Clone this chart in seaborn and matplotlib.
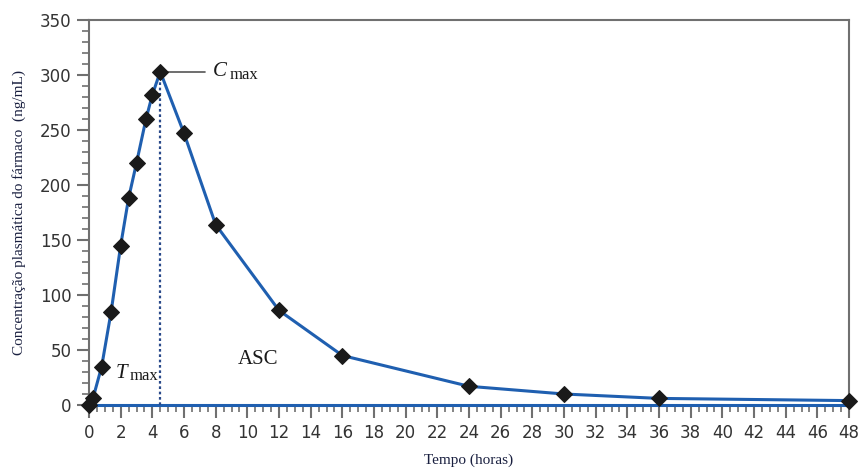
import matplotlib
matplotlib.use("Agg")
import matplotlib.pyplot as plt
from matplotlib.ticker import MultipleLocator
import seaborn as sns
import pandas as pd

# Data
tempo = [0, 0.25, 0.8, 1.4, 2, 2.5, 3, 3.6, 4, 4.5, 6, 8, 12, 16, 24, 30, 36, 48]
conc = [0, 6, 35, 85, 145, 188, 220, 260, 282, 303, 247, 164, 86, 45, 17, 10, 6, 4]
tmax = 4.5
cmax = 303

df = pd.DataFrame({"Tempo": tempo, "Conc": conc})

sns.set_theme(style="white")
plt.rcParams['font.family'] = ['DejaVu Sans']

fig = plt.figure(figsize=(8.6, 4.73), dpi=100)
ax = fig.add_axes([89/860, 1-405/473, (849-89)/860, (405-20)/473])

line_col = "#1f5fb0"
ax.axhline(0, color=line_col, lw=2.2, zorder=2, clip_on=False)
ax.plot([tmax, tmax], [0, cmax], color="#2a4a8a", lw=1.6, ls=(0, (1.2, 1.2)), zorder=2)
sns.lineplot(data=df, x="Tempo", y="Conc", ax=ax, color=line_col, lw=2.2,
             marker="D", markersize=8, markerfacecolor="#1a1a1a",
             markeredgecolor="#1a1a1a", zorder=3, clip_on=False)

ax.set_xlim(0, 48)
ax.set_ylim(0, 350)
ax.xaxis.set_major_locator(MultipleLocator(2))
ax.xaxis.set_minor_locator(MultipleLocator(0.5))
ax.yaxis.set_major_locator(MultipleLocator(50))
ax.yaxis.set_minor_locator(MultipleLocator(10))

gray = "#707070"
for s in ax.spines.values():
    s.set_color(gray)
    s.set_linewidth(1.5)
ax.spines['bottom'].set_visible(False)

ax.tick_params(axis='both', which='major', direction='out', length=9, width=1.5,
               color=gray, labelsize=12, labelcolor="#333333")
ax.tick_params(axis='both', which='minor', direction='out', length=5, width=1.2, color=gray)
ax.tick_params(axis='x', which='both', bottom=True, top=False, pad=5)
ax.tick_params(axis='y', which='both', left=True, right=False)

serif = ['Liberation Serif']
ax.set_xlabel("Tempo (horas)", family=serif, fontsize=11, color="#1a2040", labelpad=8)
ax.set_ylabel("Concentração plasmática do fármaco  (ng/mL)", family=serif,
              fontsize=11, color="#1a2040", labelpad=10)

# Annotations
ax.plot([tmax, 7.3], [cmax, cmax], color="#555555", lw=1.2, zorder=1)
ax.text(7.8, cmax, "C", fontsize=15, style="italic", va="center", ha="left",
        color="#1a1a1a", family=serif)
ax.text(8.85, cmax - 3, "max", fontsize=12, va="center", ha="left", color="#1a1a1a",
        family=serif)
ax.text(1.7, 29, "T", fontsize=15, style="italic", va="center", ha="left",
        color="#1a1a1a", family=serif)
ax.text(2.55, 26, "max", fontsize=12, va="center", ha="left", color="#1a1a1a",
        family=serif)
ax.text(9.4, 41, "ASC", fontsize=15, va="center", ha="left", color="#1a1a1a",
        family=serif)

fig.savefig("out.png", dpi=100)
